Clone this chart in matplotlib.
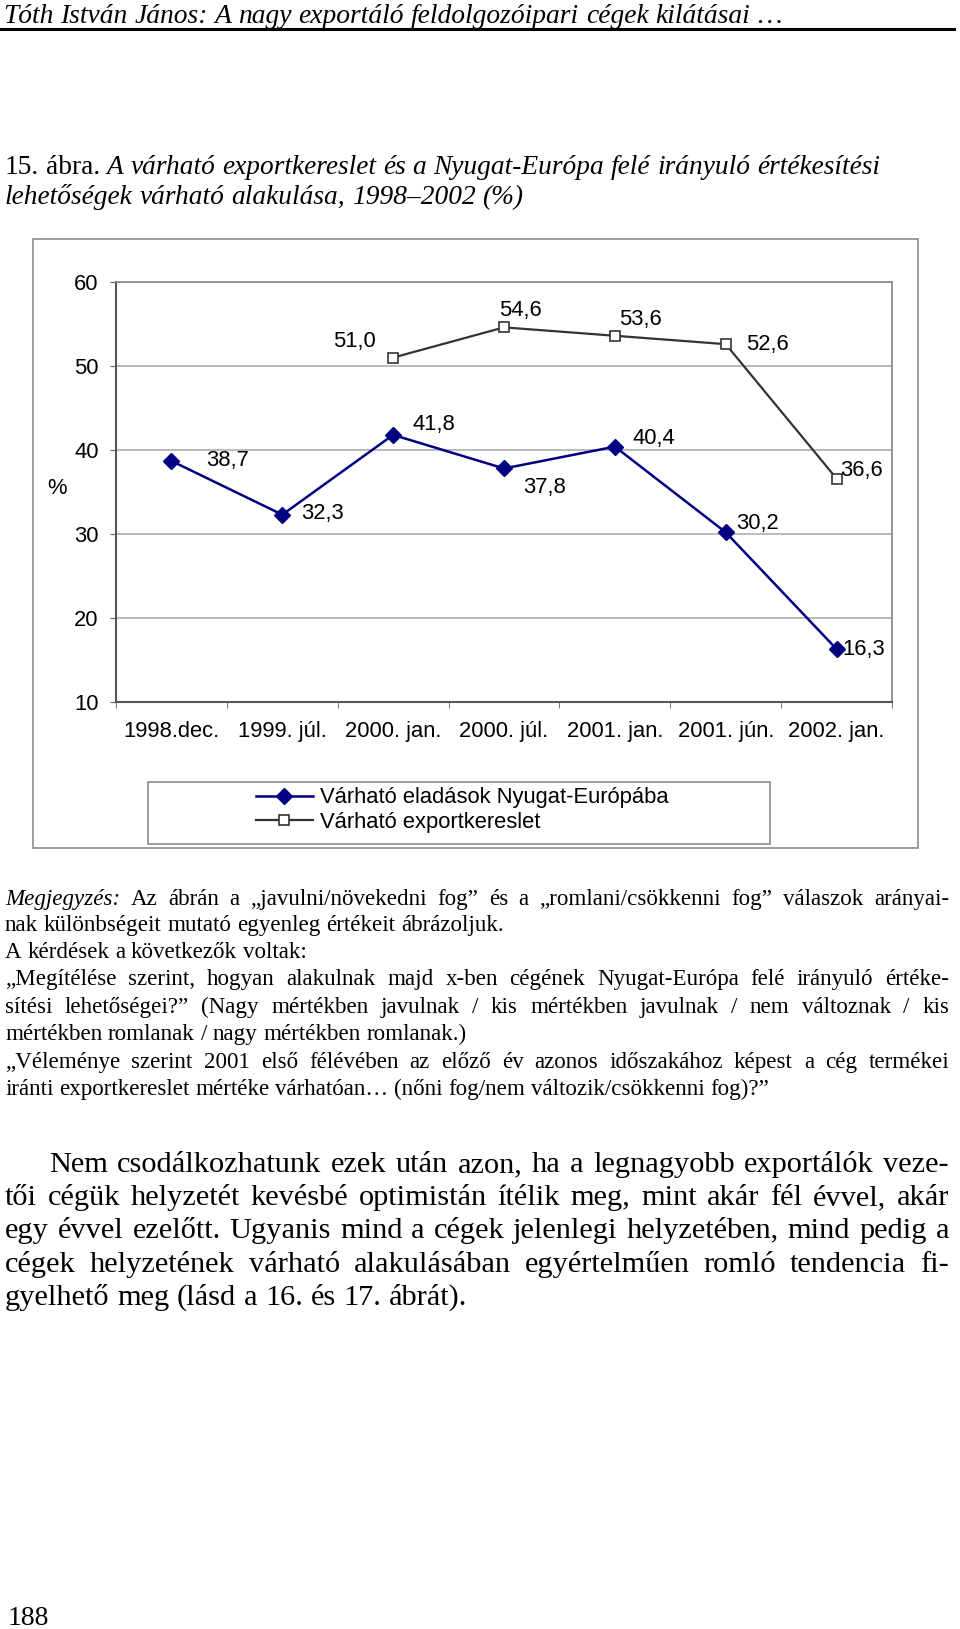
import matplotlib
matplotlib.use('Agg')

import numpy as np
import matplotlib.pyplot as plt
from matplotlib.patches import Rectangle
from matplotlib.lines import Line2D
from matplotlib.transforms import IdentityTransform

W, H = 960, 1629
SANS = ['Liberation Sans', 'DejaVu Sans']
SERIF = ['Liberation Serif', 'DejaVu Serif']

# chart data
periods = ['1998.dec.', '1999. júl.', '2000. jan.', '2000. júl.',
           '2001. jan.', '2001. jún.', '2002. jan.']
sales = [38.7, 32.3, 41.8, 37.8, 40.4, 30.2, 16.3]
demand = [np.nan, np.nan, 51.0, 54.6, 53.6, 52.6, 36.6]
series_names = ['Várható eladások Nyugat-Európába', 'Várható exportkereslet']

# page text
header = 'Tóth István János: A nagy exportáló feldolgozóipari cégek kilátásai …'
caption = [
    [('15. ábra.', 'normal'),
     ('A várható exportkereslet és a Nyugat-Európa felé irányuló értékesítési', 'italic')],
    [('lehetőségek várható alakulása, 1998–2002 (%)', 'italic')],
]
notes = [
    [('Megjegyzés:', 'italic'),
     ('Az ábrán a „javulni/növekedni fog” és a „romlani/csökkenni fog” válaszok arányai-', 'normal')],
    'nak különbségeit mutató egyenleg értékeit ábrázoljuk.',
    'A kérdések a következők voltak:',
    '„Megítélése szerint, hogyan alakulnak majd x-ben cégének Nyugat-Európa felé irányuló értéke-',
    'sítési lehetőségei?” (Nagy mértékben javulnak / kis mértékben javulnak / nem változnak / kis',
    'mértékben romlanak / nagy mértékben romlanak.)',
    '„Véleménye szerint 2001 első félévében az előző év azonos időszakához képest a cég termékei',
    'iránti exportkereslet mértéke várhatóan… (nőni fog/nem változik/csökkenni fog)?”',
]
body = [
    'Nem csodálkozhatunk ezek után azon, ha a legnagyobb exportálók veze-',
    'tői cégük helyzetét kevésbé optimistán ítélik meg, mint akár fél évvel, akár',
    'egy évvel ezelőtt. Ugyanis mind a cégek jelenlegi helyzetében, mind pedig a',
    'cégek helyzetének várható alakulásában egyértelműen romló tendencia fi-',
    'gyelhető meg (lásd a 16. és 17. ábrát).',
]
page_no = '188'

fig = plt.figure(figsize=(W / 100, H / 100), dpi=100)
fig.patch.set_facecolor('white')
renderer = fig.canvas.get_renderer()


def draw_line(segments, yc, x0, x1, size, justify=False):
    if isinstance(segments, str):
        segments = [(segments, 'normal')]
    words = [(w, st) for txt, st in segments for w in txt.split(' ')]
    em = size / 0.72
    base = H - (yc + 0.33 * em)
    arts = []
    for w, st in words:
        t = fig.text(0, base, w, transform=IdentityTransform(), fontsize=size,
                     family=SERIF, style=st, va='baseline', ha='left')
        arts.append((t, t.get_window_extent(renderer=renderer).width))
    total = sum(wd for _, wd in arts)
    gap = 0.25 * em
    if justify and len(arts) > 1:
        gap = (x1 - x0 - total) / (len(arts) - 1)
    x = x0
    for t, wd in arts:
        t.set_x(x)
        x += wd + gap


# header and rule
draw_line([(header, 'italic')], 14, 3, None, 19.8)
fig.add_artist(Line2D([0, 954], [H - 29, H - 29], transform=IdentityTransform(),
                      color='black', lw=2.2))

for seg, yc in zip(caption, [165, 195]):
    draw_line(seg, yc, 5, None, 19.7)

# outer chart frame
fig.add_artist(Rectangle((33, H - 848), 918 - 33, 848 - 239, transform=IdentityTransform(),
                         fill=False, edgecolor='#8c8c8c', lw=1.2))

FS = 15.8
ax = fig.add_axes([116 / W, 1 - 702 / H, (892 - 116) / W, (702 - 282) / H])
x = np.arange(len(periods))
ax.plot(x, sales, color='#000080', lw=1.8, marker='D', ms=8.5,
        markerfacecolor='#000080', markeredgecolor='#000080', zorder=4)
ax.plot(x, demand, color='#333333', lw=1.6, marker='s', ms=7,
        markerfacecolor='white', markeredgecolor='#333333', markeredgewidth=1.2, zorder=4)

ax.set_xlim(-0.5, len(periods) - 0.5)
ax.set_ylim(10, 60)
ax.set_yticks(range(10, 61, 10))
ax.yaxis.grid(True, color='#a8a8a8', lw=1.1)
ax.set_axisbelow(True)
ax.set_xticks(x)
ax.set_xticklabels(periods, fontsize=FS, family=SANS)
ax.set_xticks(np.arange(-0.5, len(periods), 1), minor=True)
ax.tick_params(axis='x', which='major', length=0, pad=14)
ax.tick_params(axis='x', which='minor', length=4, direction='out', color='#606060')
ax.tick_params(axis='y', length=4.5, direction='out', color='#606060', pad=8, labelsize=FS)
for lab in ax.get_yticklabels():
    lab.set_family(SANS)
for s in ['left', 'bottom']:
    ax.spines[s].set_color('#555555')
    ax.spines[s].set_linewidth(1.5)
for s in ['top', 'right']:
    ax.spines[s].set_color('#8c8c8c')
    ax.spines[s].set_linewidth(1.3)

fmt = lambda v: f'{v:.1f}'.replace('.', ',')
sales_off = [(35, 0), (19, 1), (19, 10), (19, -19), (18, 8), (10, 9), (6, 0)]
demand_off = [None, None, (-17, 16), (-5, 17), (4, 16), (20, 0), (4, 8)]
for i, v in enumerate(sales):
    dx, dy = sales_off[i]
    ax.annotate(fmt(v), (x[i], v), xytext=(dx, dy), textcoords='offset pixels',
                ha='left', va='center', fontsize=FS, family=SANS)
for i, v in enumerate(demand):
    if np.isnan(v):
        continue
    dx, dy = demand_off[i]
    ax.annotate(fmt(v), (x[i], v), xytext=(dx, dy), textcoords='offset pixels',
                ha='right' if dx < -10 else 'left', va='center', fontsize=FS, family=SANS)

fig.text(57, H - 489, '%', transform=IdentityTransform(), fontsize=FS, family=SANS,
         ha='center', va='center')

# legend
fig.add_artist(Rectangle((148, H - 844), 770 - 148, 844 - 782, transform=IdentityTransform(),
                         fill=False, edgecolor='#8c8c8c', lw=1.2))
handles = [
    Line2D([], [], color='#000080', lw=1.8, marker='D', ms=8.5, markerfacecolor='#000080'),
    Line2D([], [], color='#333333', lw=1.6, marker='s', ms=7, markerfacecolor='white',
           markeredgecolor='#333333', markeredgewidth=1.2),
]
fig.legend(handles, series_names, loc='center', bbox_to_anchor=(462 / W, 1 - 810 / H),
           frameon=False, prop={'family': SANS, 'size': FS}, handlelength=2.6,
           handletextpad=0.3, labelspacing=0.15, borderpad=0)

# note block
note_y = [897, 923, 950, 977, 1005, 1032, 1060, 1087]
note_just = [True, False, False, True, True, False, True, False]
for seg, yc, j in zip(notes, note_y, note_just):
    draw_line(seg, yc, 5, 949, 16.6, j)

body_y = [1162, 1195, 1228, 1262, 1295]
body_x0 = [49, 5, 5, 5, 5]
for i, (line, yc) in enumerate(zip(body, body_y)):
    draw_line(line, yc, body_x0[i], 949, 21.9, i < 4)

draw_line(page_no, 1616, 8, None, 20)

fig.savefig('out.png', dpi=100)
